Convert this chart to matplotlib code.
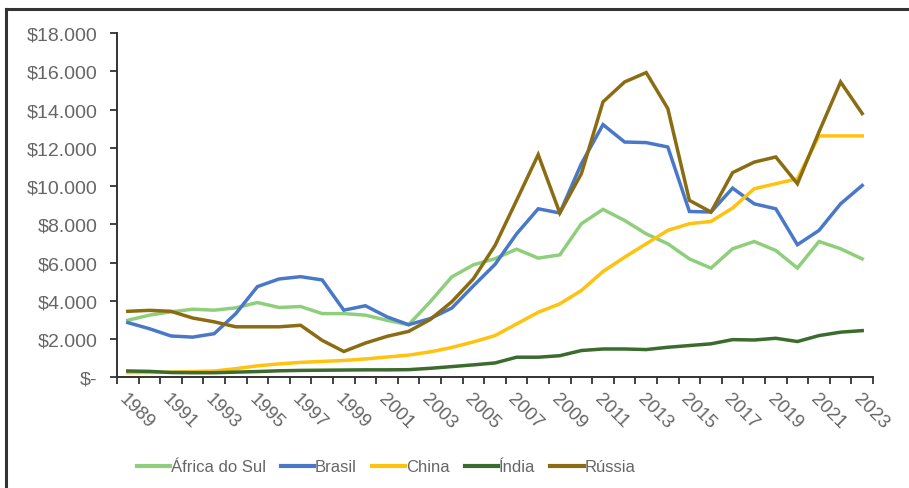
import matplotlib
matplotlib.use("Agg")
from matplotlib import pyplot as plt
from matplotlib.lines import Line2D
from matplotlib.ticker import FuncFormatter

anos = list(range(1989, 2024))

africa_do_sul = [2980, 3250, 3420, 3560, 3510, 3630, 3910, 3650, 3700, 3330,
                 3330, 3250, 2980, 2750, 3950, 5250, 5880, 6200, 6700, 6230,
                 6400, 8030, 8780, 8200, 7500, 6980, 6190, 5710, 6720, 7100,
                 6630, 5710, 7100, 6720, 6190]
brasil = [2860, 2540, 2160, 2100, 2280, 3330, 4740, 5140, 5260, 5090,
          3510, 3740, 3160, 2750, 3070, 3620, 4780, 5900, 7500, 8810,
          8590, 11170, 13210, 12300, 12270, 12040, 8670, 8640, 9890, 9070,
          8810, 6930, 7680, 9070, 10030]
china = [250, 250, 270, 300, 330, 450, 600, 700, 780, 830,
         880, 960, 1060, 1160, 1330, 1560, 1850, 2180, 2790, 3400,
         3840, 4540, 5530, 6280, 6980, 7680, 8030, 8150, 8850, 9860,
         10120, 10380, 12620, 12620, 12620]
india = [330, 310, 250, 240, 240, 270, 300, 340, 360, 370,
         380, 390, 390, 400, 470, 560, 650, 750, 1050, 1050,
         1130, 1400, 1480, 1480, 1450, 1570, 1660, 1750, 1970, 1950,
         2040, 1870, 2180, 2360, 2440]
russia = [3450, 3500, 3450, 3100, 2900, 2640, 2640, 2640, 2720, 1930,
          1350, 1790, 2140, 2400, 3020, 3950, 5150, 6890, 9250, 11640,
          8590, 10650, 14400, 15440, 15930, 14050, 9250, 8640, 10700, 11250,
          11520, 10120, 12830, 15440, 13790]

series = [
    ("África do Sul", africa_do_sul, "#8fcf7c"),
    ("Brasil", brasil, "#4a78c8"),
    ("China", china, "#ffc20e"),
    ("Índia", india, "#3b6b2e"),
    ("Rússia", russia, "#8a6c12"),
]

plt.rcParams['font.family'] = ['Liberation Sans', 'DejaVu Sans']
cinza = "#666666"

fig = plt.figure(figsize=(9.09, 4.89), dpi=100)
ax = fig.add_axes([117 / 909, 1 - 378.3 / 489, (873 - 117) / 909, (378.3 - 34) / 489])

x = list(range(len(anos)))
for nome, vals, cor in series:
    ax.plot(x, vals, color=cor, lw=2.5, label=nome, solid_joinstyle="miter")

ax.set_ylim(0, 18000)
ax.set_xlim(-0.5, len(anos) - 0.5)
ax.set_yticks(range(0, 18001, 2000))


def fmt(v, pos):
    if v == 0:
        return "$-"
    return "$" + f"{int(v):,}".replace(",", ".")


ax.yaxis.set_major_formatter(FuncFormatter(fmt))
ax.set_xticks([i - 0.5 for i in range(len(anos) + 1)])
ax.set_xticklabels([])
ax.set_xticks(x[::2], minor=True)
ax.set_xticklabels([str(a) for a in anos[::2]], minor=True, rotation=-45,
                   ha="left", va="top", rotation_mode="anchor")
ax.tick_params(axis="x", which="minor", length=0, pad=9, labelsize=13.5, labelcolor=cinza)
ax.tick_params(axis="x", which="major", length=5, width=1.3, color="#333333")
ax.tick_params(axis="y", length=5, width=1.3, color="#333333", labelsize=14, labelcolor=cinza, pad=9)

for s in ["top", "right"]:
    ax.spines[s].set_visible(False)
for s in ["left", "bottom"]:
    ax.spines[s].set_color("#333333")
    ax.spines[s].set_linewidth(1.4)

handles = [Line2D([], [], color=c, lw=3) for _, _, c in series]
fig.legend(handles, [n for n, _, _ in series], loc="center", bbox_to_anchor=(386 / 909, 1 - 468 / 489),
           ncol=5, frameon=False, fontsize=12, handlelength=2.0, handletextpad=0.05,
           columnspacing=0.9, labelcolor=cinza)

# moldura
fig.add_artist(Line2D([6 / 909, 1], [1 - 10 / 489, 1 - 10 / 489], color="#333333", lw=2.2))
fig.add_artist(Line2D([6 / 909, 6 / 909], [0, 1 - 10 / 489], color="#333333", lw=2.2))

fig.savefig("out.png", dpi=100)
